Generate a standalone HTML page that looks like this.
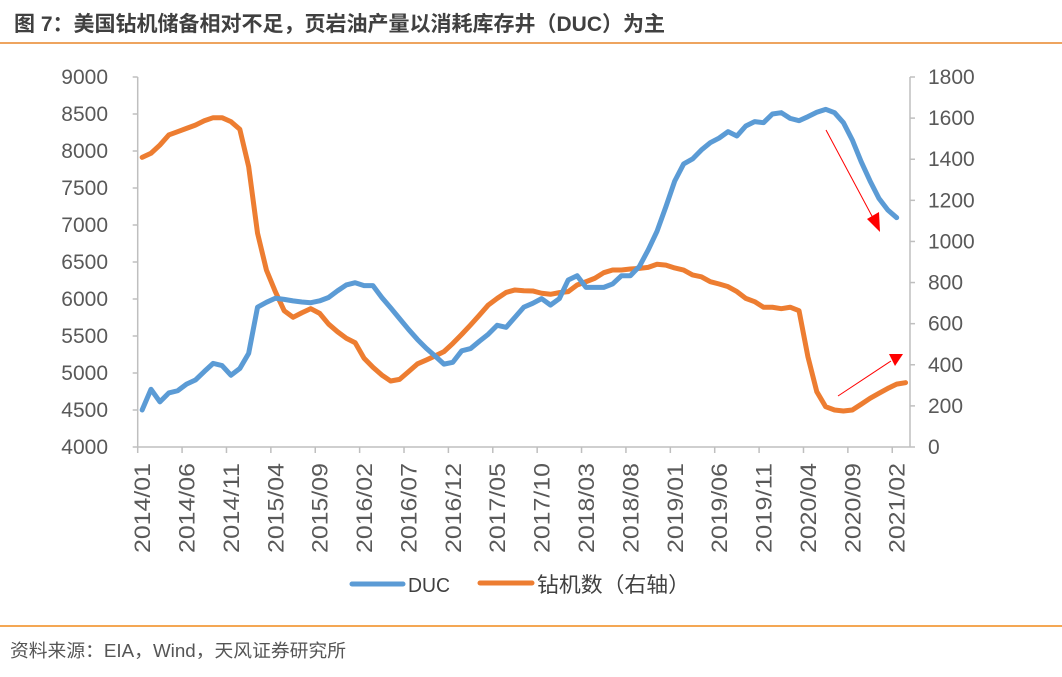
<!DOCTYPE html>
<html><head><meta charset="utf-8"><style>
body{margin:0;width:1062px;height:672px;background:#fff;overflow:hidden;font-family:"Liberation Sans","Noto Sans CJK SC",sans-serif}
</style></head><body>
<svg width="1062" height="672" xmlns="http://www.w3.org/2000/svg">
<text x="14" y="31" font-size="21" font-weight="bold" fill="#404040" textLength="651" lengthAdjust="spacingAndGlyphs" font-family="Liberation Sans, Noto Sans CJK SC, sans-serif">图 7：美国钻机储备相对不足，页岩油产量以消耗库存井（DUC）为主</text>
<line x1="0" y1="43" x2="1062" y2="43" stroke="#E8862A" stroke-width="1.5"/>
<line x1="0" y1="626" x2="1062" y2="626" stroke="#F08A1C" stroke-width="1.5"/>
<text x="10" y="657" font-size="18" fill="#555" textLength="336" lengthAdjust="spacingAndGlyphs" font-family="Liberation Sans, Noto Sans CJK SC, sans-serif">资料来源：EIA，Wind，天风证券研究所</text>
<g id="axes"></g>
<g id="series"></g>
<g>
<line x1="352" y1="584" x2="403" y2="584" stroke="#5B9BD5" stroke-width="5" stroke-linecap="round"/>
<text x="408" y="592" font-size="20" fill="#404040" textLength="42" lengthAdjust="spacingAndGlyphs">DUC</text>
<line x1="480" y1="583" x2="532" y2="583" stroke="#ED7D31" stroke-width="5" stroke-linecap="round"/>
<text x="537" y="592" font-size="21" fill="#404040" textLength="153" lengthAdjust="spacingAndGlyphs" font-family="Liberation Sans, Noto Sans CJK SC, sans-serif">钻机数（右轴）</text>
</g>
<g>
<line x1="826" y1="130" x2="873" y2="218" stroke="#FF0000" stroke-width="1"/>
<polygon points="880,232 867,219 879,212" fill="#FF0000"/>
<line x1="838" y1="396" x2="891" y2="361" stroke="#FF0000" stroke-width="1"/>
<polygon points="903,354 889,354 895,366" fill="#FF0000"/>
</g>
</svg>
<script>
const months=[];
for(let y=2014;y<=2021;y++)for(let m=1;m<=12;m++){if(y===2021&&m>3)break;months.push(y+'/'+String(m).padStart(2,'0'));}
const ducValues=[4500,4780,4610,4730,4760,4850,4905,5020,5130,5100,4970,5060,5265,5890,5955,6010,5995,5975,5960,5950,5975,6020,6110,6190,6220,6180,6180,6020,5880,5735,5590,5455,5335,5230,5120,5145,5300,5330,5430,5525,5645,5617,5753,5890,5942,6005,5918,6005,6257,6315,6157,6157,6157,6203,6315,6315,6437,6662,6915,7247,7595,7825,7892,8014,8112,8175,8261,8203,8338,8397,8383,8500,8518,8441,8410,8464,8523,8563,8518,8383,8149,7855,7595,7360,7203,7099];
const rigValues=[1409,1429,1469,1518,1534,1550,1566,1587,1602,1602,1583,1546,1364,1040,861,756,663,631,653,673,650,598,561,529,507,432,388,350,321,329,366,404,423,443,464,504,548,594,642,691,723,752,764,760,759,748,743,751,756,788,804,821,848,861,861,866,869,874,889,885,871,861,837,828,804,793,780,756,723,707,680,680,673,680,663,439,269,196,180,175,180,208,237,261,285,306,313];
const leftTicks=[4000,4500,5000,5500,6000,6500,7000,7500,8000,8500,9000];
const rightTicks=[0,200,400,600,800,1000,1200,1400,1600,1800];
const NS='http://www.w3.org/2000/svg';
const X0=137.7,X1=910,YT=77,YB=447;
const bw=(X1-X0)/months.length;
const xPos=i=>X0+bw*(i+0.5);
const yL=v=>YB-(v-4000)/5000*(YB-YT);
const yR=v=>YB-v/1800*(YB-YT);
function mk(tag,attrs,parent){const e=document.createElementNS(NS,tag);for(const k in attrs)e.setAttribute(k,attrs[k]);parent.appendChild(e);return e;}
const ax=document.getElementById('axes');
const fam='Liberation Sans, Noto Sans CJK SC, sans-serif';
let e;
e=mk('line',{x1:X0,y1:YT,x2:X0,y2:YB,stroke:'#BFBFBF','stroke-width':1.5},ax);


e=mk('line',{x1:X1,y1:YT,x2:X1,y2:YB,stroke:'#BFBFBF','stroke-width':1.5},ax);


e=mk('line',{x1:X0,y1:YB,x2:X1,y2:YB,stroke:'#BFBFBF','stroke-width':1.5},ax);


leftTicks.forEach(v=>{
 const y=yL(v);
 mk('line',{x1:X0-5,y1:y,x2:X0,y2:y,stroke:'#BFBFBF','stroke-width':1.5},ax);
 e=mk('text',{x:108,y:y+7,'text-anchor':'end','font-size':21,fill:'#595959','font-family':fam},ax);
 e.textContent=v;
 
 
});
rightTicks.forEach(v=>{
 const y=yR(v);
 mk('line',{x1:X1,y1:y,x2:X1+5,y2:y,stroke:'#BFBFBF','stroke-width':1.5},ax);
 e=mk('text',{x:928,y:y+7,'font-size':21,fill:'#595959','font-family':fam},ax);
 e.textContent=v;
 
 
});
months.forEach((m,i)=>{
 if(i%5===0){
  const tx=X0+bw*i;
  mk('line',{x1:tx,y1:YB,x2:tx,y2:YB+6,stroke:'#BFBFBF','stroke-width':1.5},ax);
  const cx=xPos(i)+8;
  e=mk('text',{x:cx,y:463,'text-anchor':'end','font-size':22,fill:'#595959','font-family':fam,textLength:90,lengthAdjust:'spacingAndGlyphs',transform:`rotate(-90 ${cx} 463)`},ax);
  e.textContent=m;
  
  
 }
});
const sg=document.getElementById('series');
e=mk('polyline',{points:rigValues.map((v,i)=>xPos(i)+','+yR(v)).join(' '),fill:'none',stroke:'#ED7D31','stroke-width':5,'stroke-linejoin':'round','stroke-linecap':'round'},sg);


e=mk('polyline',{points:ducValues.map((v,i)=>xPos(i)+','+yL(v)).join(' '),fill:'none',stroke:'#5B9BD5','stroke-width':5,'stroke-linejoin':'round','stroke-linecap':'round'},sg);


</script>
</body></html>
